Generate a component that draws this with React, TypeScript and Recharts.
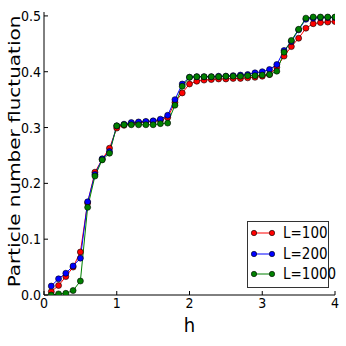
import React from 'react';
import { LineChart, Line, XAxis, YAxis, Legend, Label } from 'recharts';

const hValues = [
  0.1, 0.2, 0.3, 0.4, 0.5, 0.6, 0.7, 0.8, 0.9, 1.0,
  1.1, 1.2, 1.3, 1.4, 1.5, 1.6, 1.7, 1.8, 1.9, 2.0,
  2.1, 2.2, 2.3, 2.4, 2.5, 2.6, 2.7, 2.8, 2.9, 3.0,
  3.1, 3.2, 3.3, 3.4, 3.5, 3.6, 3.7, 3.8, 3.9, 4.0,
];

const l100 = [
  0.006, 0.017, 0.033, 0.050, 0.077, 0.165, 0.220, 0.243, 0.263, 0.299,
  0.304, 0.307, 0.309, 0.310, 0.311, 0.313, 0.318, 0.345, 0.362, 0.378,
  0.383, 0.385, 0.386, 0.387, 0.387, 0.388, 0.388, 0.389, 0.390, 0.392,
  0.395, 0.408, 0.428, 0.445, 0.460, 0.478, 0.486, 0.488, 0.489, 0.490,
];

const l200 = [
  0.016, 0.029, 0.039, 0.052, 0.066, 0.167, 0.216, 0.244, 0.257, 0.303,
  0.306, 0.309, 0.310, 0.311, 0.312, 0.315, 0.322, 0.350, 0.378, 0.390,
  0.391, 0.391, 0.391, 0.392, 0.392, 0.393, 0.394, 0.395, 0.398, 0.400,
  0.404, 0.413, 0.438, 0.454, 0.475, 0.494, 0.496, 0.497, 0.497, 0.497,
];

const l1000 = [
  0.000, 0.002, 0.003, 0.008, 0.025, 0.157, 0.213, 0.242, 0.254, 0.303,
  0.305, 0.305, 0.305, 0.305, 0.305, 0.307, 0.308, 0.340, 0.374, 0.390,
  0.391, 0.391, 0.391, 0.391, 0.392, 0.392, 0.392, 0.393, 0.393, 0.394,
  0.395, 0.401, 0.435, 0.456, 0.476, 0.496, 0.498, 0.498, 0.498, 0.498,
];

const xTicks = [0, 1, 2, 3, 4];
const yTicks = [0, 0.1, 0.2, 0.3, 0.4, 0.5];

const seriesInfo = [
  { key: 'l100', name: 'L=100', color: '#ff0000' },
  { key: 'l200', name: 'L=200', color: '#0000ff' },
  { key: 'l1000', name: 'L=1000', color: '#008000' },
];

const data = hValues.map((h, i) => ({ h, l100: l100[i], l200: l200[i], l1000: l1000[i] }));

const NARROW = "'Liberation Sans Narrow', 'DejaVu Sans Condensed', 'DejaVu Sans', sans-serif";

const tickStyle = { fill: '#000', fontSize: 14, fontFamily: NARROW };

const YLabel = (props: any) => {
  const vb = props.viewBox || { x: 0, y: 12, width: 44, height: 283 };
  const x = vb.x + 20;
  const y = vb.y + vb.height / 2 - 2;
  return (
    <text
      transform={`translate(${x},${y}) rotate(-90) scale(1,0.82)`}
      textAnchor="middle"
      fill="#000"
      fontSize={20}
      fontFamily="'DejaVu Sans', sans-serif"
    >
      Particle number fluctuation
    </text>
  );
};

const LegendBox = () => (
  <div
    style={{
      border: '1px solid #333',
      background: '#fff',
      width: 82,
      height: 67,
      boxSizing: 'border-box',
      position: 'relative',
    }}
  >
    {seriesInfo.map((s, i) => (
      <div
        key={s.key}
        style={{
          position: 'absolute',
          left: 0,
          top: 1 + i * 20.7,
          height: 20,
          display: 'flex',
          alignItems: 'center',
        }}
      >
        <svg width={30} height={20} style={{ display: 'block' }}>
          <line x1={6} y1={10} x2={24} y2={10} stroke={s.color} strokeWidth={1} />
          <circle cx={6} cy={10} r={2.7} fill={s.color} stroke="#000" strokeWidth={0.6} />
          <circle cx={24} cy={10} r={2.7} fill={s.color} stroke="#000" strokeWidth={0.6} />
        </svg>
        <span style={{ marginLeft: 5, fontFamily: NARROW, fontSize: 15, color: '#000', lineHeight: '20px' }}>
          {s.name}
        </span>
      </div>
    ))}
  </div>
);

export default function App() {
  return (
    <div style={{ position: 'absolute', left: 0, top: 0, width: 346, height: 346, background: '#fff' }}>
      <LineChart width={346} height={346} data={data} margin={{ top: 12, right: 11, bottom: 0, left: 0 }}>
        <XAxis
          dataKey="h"
          type="number"
          domain={[0, 4]}
          ticks={xTicks}
          allowDataOverflow
          height={51}
          tickSize={-4}
          tickMargin={7}
          axisLine={{ stroke: '#000', strokeWidth: 1 }}
          tickLine={{ stroke: '#000' }}
          tick={tickStyle}
          interval={0}
        >
          <Label
            value="h"
            position="insideBottom"
            offset={14}
            style={{ fill: '#000', fontSize: 20, fontFamily: NARROW }}
          />
        </XAxis>
        <XAxis
          xAxisId="top"
          orientation="top"
          type="number"
          domain={[0, 4]}
          ticks={xTicks}
          height={0}
          tickSize={-4}
          axisLine={{ stroke: '#000', strokeWidth: 1 }}
          tickLine={{ stroke: '#000' }}
          tick={false}
        />
        <YAxis
          type="number"
          domain={[0, 0.507]}
          ticks={yTicks}
          allowDataOverflow
          width={44}
          tickSize={-4}
          tickMargin={7}
          axisLine={{ stroke: '#000', strokeWidth: 1 }}
          tickLine={{ stroke: '#000' }}
          tick={tickStyle}
          tickFormatter={(v: number) => v.toFixed(1)}
          interval={0}
          label={<YLabel />}
        />
        <YAxis
          yAxisId="right"
          orientation="right"
          type="number"
          domain={[0, 0.507]}
          ticks={yTicks}
          width={0}
          tickSize={-4}
          axisLine={{ stroke: '#000', strokeWidth: 1 }}
          tickLine={{ stroke: '#000' }}
          tick={false}
        />
        <Legend
          layout="horizontal"
          verticalAlign="middle"
          align="center"
          content={<LegendBox />}
          wrapperStyle={{ position: 'absolute', left: 247, top: 221, width: 82, height: 67 }}
        />
        {seriesInfo.map((s) => (
          <Line
            key={s.key}
            type="linear"
            dataKey={s.key}
            name={s.name}
            stroke={s.color}
            strokeWidth={1}
            dot={{ r: 3, fill: s.color, stroke: '#000', strokeWidth: 0.6 }}
            activeDot={false}
            isAnimationActive={false}
          />
        ))}
      </LineChart>
    </div>
  );
}
